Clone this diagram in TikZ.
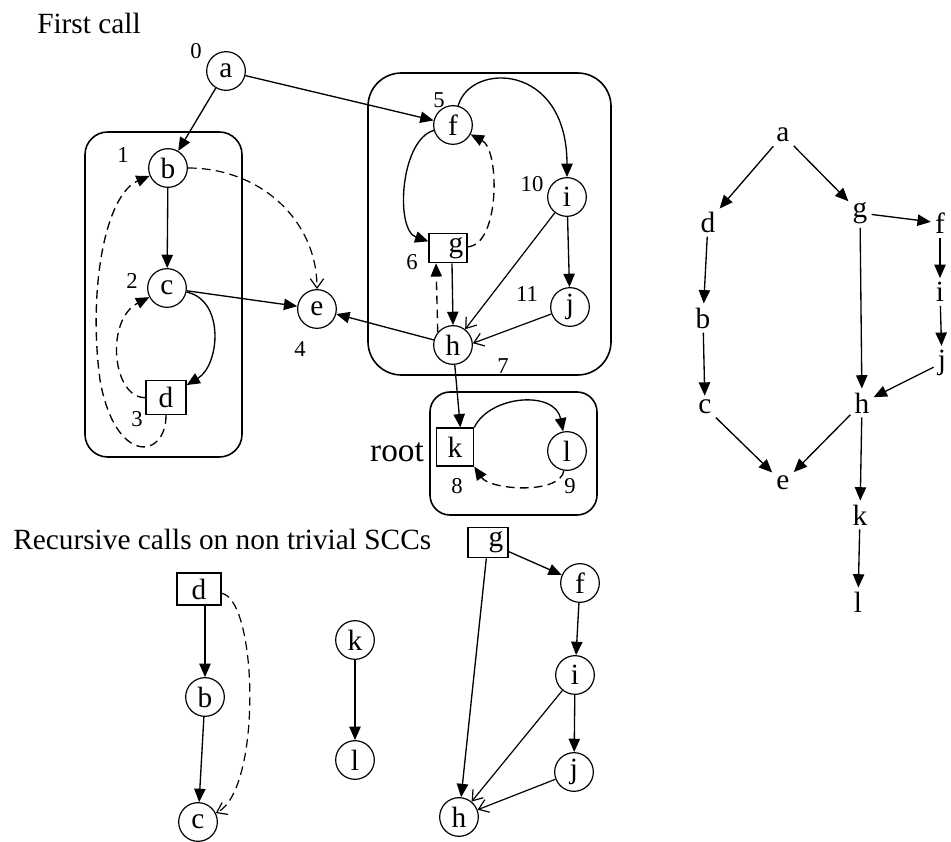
\documentclass[tikz,border=0pt]{standalone}
\usepackage{fontspec}
\setmainfont{Liberation Serif}
\usetikzlibrary{arrows.meta}
\begin{document}
\begin{tikzpicture}[x=0.75pt,y=-0.75pt,
  every node/.style={font=\fontsize{22}{24}\selectfont},
  vtx/.style={circle,draw,line width=0.9pt,minimum size=29pt,inner sep=0pt},
  sq/.style={rectangle,draw,line width=0.9pt,inner sep=0pt},
  num/.style={font=\fontsize{17}{18}\selectfont,inner sep=0pt},
  tlet/.style={inner sep=3pt},
  scc/.style={draw,line width=1.2pt,rounded corners=#1},
  fwd/.style={line width=1pt,-{Triangle[length=10pt,width=8.5pt]}},
  cross/.style={line width=0.9pt,-{Straight Barb[length=7pt,width=10pt]}},
  dsh/.style={dash pattern=on 6.5pt off 4pt},
]
\useasboundingbox (0,0) rectangle (951,842);

% ---------- titles ----------
\node[anchor=base west,inner sep=0pt] (t1) at (37,34) {First call};
\node[anchor=base west,inner sep=0pt] (t2) at (13,549) {Recursive calls on non trivial SCCs};

% ---------- SCC frames ----------
\node[scc=17pt,minimum width=117.75pt,minimum height=243.75pt] (sccA) at (163.5,294.5) {};
\node[scc=25pt,minimum width=182.25pt,minimum height=226.5pt] (sccB) at (489.5,224) {};
\node[scc=15pt,minimum width=125.25pt,minimum height=92.25pt] (sccC) at (513.5,453.5) {};

% ---------- first call: vertices ----------
\node[vtx] (a) at (226,71) {a};
\node[vtx] (b) at (168,168) {b};
\node[vtx] (c) at (167,288) {c};
\node[sq,minimum width=30pt,minimum height=25.5pt] (d) at (166,397.5) {d};
\node[vtx] (e) at (317,309) {e};
\node[vtx] (f) at (453,125) {f};
\node[sq,minimum width=28.5pt,minimum height=22pt] (g) at (448,248) {\hspace*{12pt}g};
\node[vtx] (h) at (453,345) {h};
\node[vtx] (i) at (567,197) {i};
\node[vtx] (j) at (570,307) {j};
\node[sq,minimum width=28pt,minimum height=28.5pt] (k) at (455,447) {k};
\node[vtx] (l) at (567,451) {l};

% DFS numbers
\node[num] (n0) at (196,51) {0};
\node[num] (n1) at (123,155) {1};
\node[num] (n2) at (132,281) {2};
\node[num] (n3) at (137,419) {3};
\node[num] (n4) at (300,349) {4};
\node[num] (n5) at (439,100) {5};
\node[num] (n6) at (412,262) {6};
\node[num] (n7) at (503,366) {7};
\node[num] (n8) at (457,486) {8};
\node[num] (n9) at (570,486) {9};
\node[num] (n10) at (532,184) {10};
\node[num] (n11) at (527,294) {11};
\node[inner sep=0pt,font=\fontsize{25}{26}\selectfont] (root) at (397,452) {root};

% ---------- first call: edges ----------
\draw[fwd] (a) -- (b);
\draw[fwd] (a) -- (f);
\draw[fwd] (b) -- (c);
\draw[cross,dsh] (b) .. controls (260,168) and (317,220) .. (e);
\draw[fwd] (c) -- (e);
\draw[fwd] (c) .. controls (225,300) and (220,365) .. (d);
\draw[fwd,dsh] (d) .. controls (112,398) and (105,320) .. (c);
\draw[fwd,dsh] (d.south) .. controls (166,460) and (115,465) .. (100,380)
  .. controls (88,290) and (105,195) .. (b);
\draw[fwd] (h) -- (e);
\draw[fwd] (f) .. controls (400,140) and (395,230) .. (g);
\draw[fwd,dsh] (g) .. controls (500,245) and (500,150) .. (f);
\draw[fwd] (f) .. controls (470,62) and (567,62) .. (i);
\draw[fwd] ([xshift=3pt]g.south) -- (h.north);
\draw[fwd,dsh] (h.140) -- ([xshift=-9pt]g.south);
\draw[fwd] (i) -- (j);
\draw[cross] (i) -- (h);
\draw[cross] (j) -- (h.5);
\draw[fwd] (h) -- ([xshift=4pt]k.north);
\draw[fwd] (k.north east) .. controls (490,395) and (555,390) .. (l);
\draw[fwd,dsh] (l) .. controls (560,495) and (490,490) .. (k.south east);

% ---------- condensed order (right) ----------
\node[tlet] (ta) at (783,135) {a};
\node[tlet] (td) at (708,222) {d};
\node[tlet] (tg) at (860,213) {g};
\node[tlet] (tf) at (940,223) {f};
\node[tlet] (tb) at (703,318) {b};
\node[tlet] (ti) at (940,292) {i};
\node[tlet] (tj) at (942,363) {j};
\node[tlet] (tc) at (705,407) {c};
\node[tlet] (th) at (862,403) {h};
\node[tlet] (te) at (783,483) {e};
\node[tlet] (tk) at (860,515) {k};
\node[tlet] (tl) at (858,602) {l};

\draw[fwd] (ta) -- (td);
\draw[fwd] (ta) -- (tg);
\draw[fwd] (td) -- (tb);
\draw[fwd] (tb) -- (tc);
\draw[fwd] (tg) -- (th);
\draw[fwd] (tg) -- (tf);
\draw[fwd] (tf) -- (ti);
\draw[fwd] (ti) -- (tj);
\draw[fwd] (tj) -- (th);
\draw[fwd] (tc) -- (te);
\draw[fwd] (th) -- (te);
\draw[fwd] (th) -- (tk);
\draw[fwd] (tk) -- (tl);

% ---------- recursive calls ----------
\node[sq,minimum width=33pt,minimum height=24pt] (d2) at (199,589) {d};
\node[vtx] (b2) at (205,697) {b};
\node[vtx] (c2) at (198,822) {c};
\draw[fwd] (d2.south -| b2.north) -- (b2);
\draw[fwd] (b2) -- (c2);
\draw[cross,dsh] (d2) .. controls (258,600) and (262,790) .. (c2);

\node[vtx] (k2) at (355,640) {k};
\node[vtx] (l2) at (355,760) {l};
\draw[fwd] (k2) -- (l2);

\node[sq,minimum width=30pt,minimum height=23pt] (g2) at (488,542.5) {\hspace*{12pt}g};
\node[vtx] (f2) at (580,583) {f};
\node[vtx] (i2) at (575,675) {i};
\node[vtx] (j2) at (574,772) {j};
\node[vtx] (h2) at (459,817) {h};
\draw[fwd] (g2) -- (f2);
\draw[fwd] (g2) -- (h2);
\draw[fwd] (f2) -- (i2);
\draw[fwd] (i2) -- (j2);
\draw[cross] (i2) -- (h2);
\draw[cross] (j2) -- (h2);
\end{tikzpicture}
\end{document}
